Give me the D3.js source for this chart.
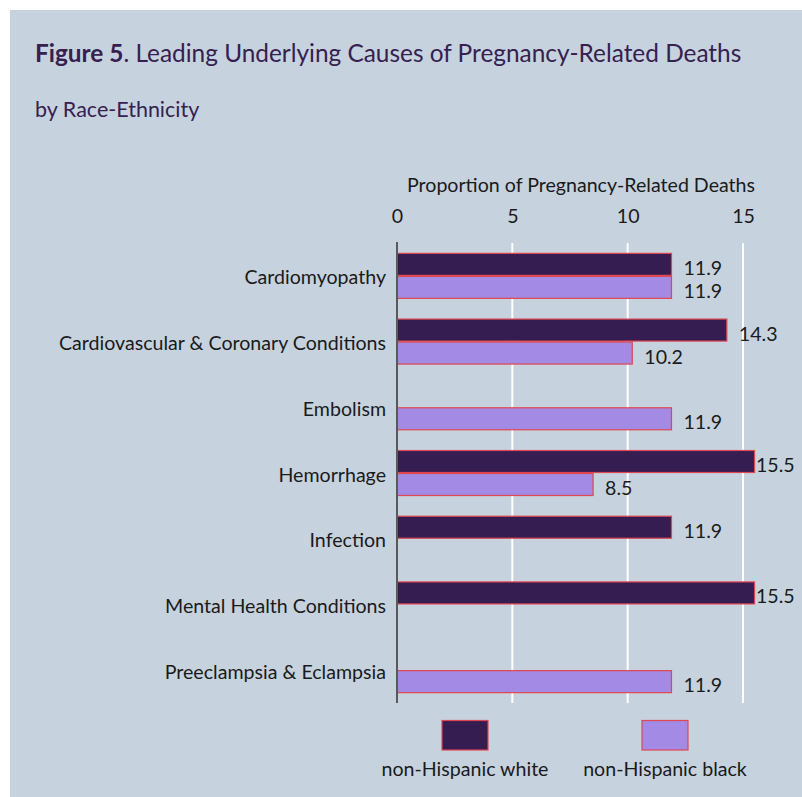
<!DOCTYPE html>
<html><head><meta charset="utf-8">
<script src="https://cdn.jsdelivr.net/npm/d3@7"></script>
<style>
html,body{margin:0;padding:0;background:#fff;}
svg{display:block;}
text{font-family:Lato,"Open Sans",sans-serif;}
</style></head>
<body>
<svg id="chart" width="802" height="797"></svg>
<script>
const categories = ["Cardiomyopathy","Cardiovascular & Coronary Conditions","Embolism","Hemorrhage","Infection","Mental Health Conditions","Preeclampsia & Eclampsia"];
const seriesNames = ["non-Hispanic white","non-Hispanic black"];
const whiteValues = [11.9, 14.3, null, 15.5, 11.9, 15.5, null];
const blackValues = [11.9, 10.2, 11.9, 8.5, null, null, 11.9];
const xTicks = [0, 5, 10, 15];
const titleBold = "Figure 5";
const titleRest = ". Leading Underlying Causes of Pregnancy-Related Deaths";
const subtitle = "by Race-Ethnicity";
const axisTitle = "Proportion of Pregnancy-Related Deaths";

const colors = ["#351d52", "#a28ae5"];
const strokeCol = "#e0464f";
const fs = 19.6;
const svg = d3.select("#chart");

svg.append("rect").attr("x",10).attr("y",10).attr("width",792).attr("height",787).attr("fill","#c6d3df");

const title = svg.append("text").attr("x",35).attr("y",62).attr("font-size",24.4).attr("fill","#36204f");
title.append("tspan").attr("font-weight","bold").text(titleBold);
title.append("tspan").text(titleRest);
svg.append("text").attr("x",35).attr("y",117).attr("font-size",21.5).attr("fill","#36204f").text(subtitle);

const x = d3.scaleLinear().domain([0,15]).range([397,743]);
const y = d3.scaleBand().domain(categories).range([243,703]).paddingInner(0.3).paddingOuter(0.15);
const ySub = d3.scaleBand().domain(seriesNames).range([0,y.bandwidth()]);

// axis title
svg.append("text").attr("x",581).attr("y",192).attr("text-anchor","middle").attr("font-size",fs).attr("fill","#1a1a1a").text(axisTitle);

// gridlines
svg.append("g").selectAll("line").data(xTicks.filter(t=>t>0)).join("line")
  .attr("x1",d=>x(d)).attr("x2",d=>x(d)).attr("y1",243).attr("y2",703)
  .attr("stroke","#ffffff").attr("stroke-width",2);

// top axis tick labels
const axis = svg.append("g").attr("transform","translate(0,223)")
  .call(d3.axisTop(x).tickValues(xTicks).tickSize(0).tickPadding(0).tickFormat(d3.format("d")));
axis.select(".domain").remove();
axis.selectAll("text").attr("font-size",fs).attr("fill","#1a1a1a").attr("font-family","Lato,'Open Sans',sans-serif").attr("dy",0);

// bars
const rows = categories.map((c,i)=>({cat:c, vals:[whiteValues[i], blackValues[i]]}));
const bars = [];
rows.forEach(r=>r.vals.forEach((v,j)=>{ if(v!=null) bars.push({cat:r.cat, series:seriesNames[j], j, v}); }));

svg.append("g").selectAll("rect").data(bars).join("rect")
  .attr("x",x(0)).attr("y",d=>y(d.cat)+ySub(d.series)+0.5)
  .attr("width",d=>x(d.v)-x(0)).attr("height",ySub.bandwidth()-1)
  .attr("fill",d=>colors[d.j]).attr("stroke",strokeCol).attr("stroke-width",1.2);

// data labels
svg.append("g").selectAll("text").data(bars).join("text")
  .attr("x",d=>Math.min(x(d.v)+12, 756))
  .attr("y",d=>y(d.cat)+ySub(d.series)+ySub.bandwidth()/2+10.5)
  .attr("font-size",fs).attr("fill","#1a1a1a").text(d=>d.v.toFixed(1));

// category labels
svg.append("g").selectAll("text").data(categories).join("text")
  .attr("x",386).attr("y",d=>y(d)+y.bandwidth()/2+8.5)
  .attr("text-anchor","end").attr("font-size",fs).attr("fill","#1a1a1a").text(d=>d);

// y axis line
svg.append("line").attr("x1",x(0)).attr("x2",x(0)).attr("y1",242).attr("y2",703)
  .attr("stroke","#595959").attr("stroke-width",2);

// legend
const legendX = [465, 665];
const lg = svg.append("g").selectAll("g").data(seriesNames).join("g");
lg.append("rect").attr("x",(d,i)=>legendX[i]-23).attr("y",720.5).attr("width",46).attr("height",29.5)
  .attr("fill",(d,i)=>colors[i]).attr("stroke",strokeCol).attr("stroke-width",1.2);
lg.append("text").attr("x",(d,i)=>legendX[i]).attr("y",776).attr("text-anchor","middle")
  .attr("font-size",fs).attr("fill","#1a1a1a").text(d=>d);
</script>
</body></html>
